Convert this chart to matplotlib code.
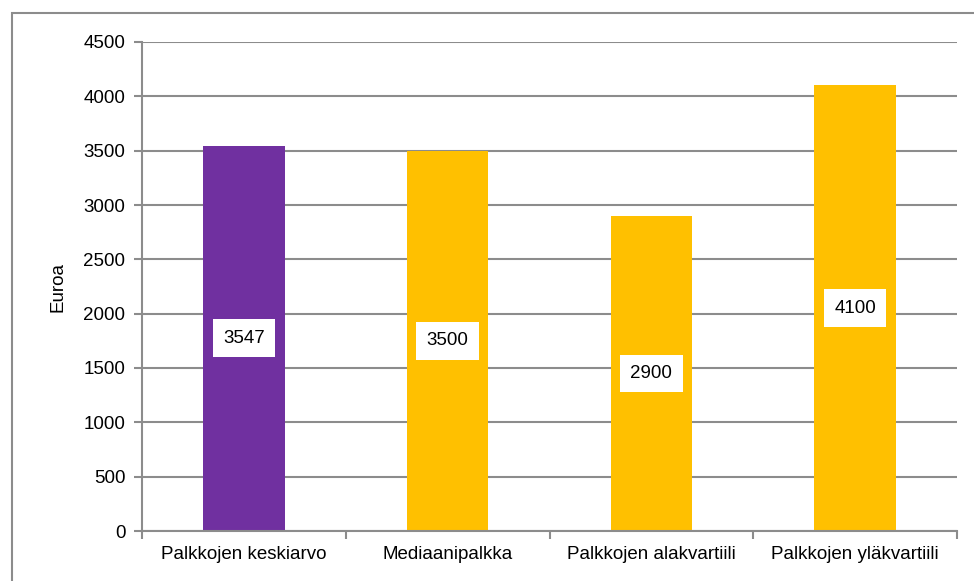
import matplotlib.pyplot as plt
from matplotlib.patches import Rectangle

plt.rcParams['font.family'] = ['Liberation Sans', 'DejaVu Sans']

categories = ['Palkkojen keskiarvo', 'Mediaanipalkka', 'Palkkojen alakvartiili', 'Palkkojen yläkvartiili']
values = [3547, 3500, 2900, 4100]
colors = ['#7030A0', '#FFC000', '#FFC000', '#FFC000']
yticks = [0, 500, 1000, 1500, 2000, 2500, 3000, 3500, 4000, 4500]

W, H = 974, 581
fs = 13.5
fig = plt.figure(figsize=(W / 100, H / 100), dpi=100)
# plot area in pixels: left 142, right 957, top 42, bottom 531
ax = fig.add_axes([142 / W, 1 - 531 / H, (957 - 142) / W, (531 - 42) / H])

grid_col = '#8c8c8c'
x = list(range(len(categories)))
ax.bar(x, values, width=0.4, color=colors, zorder=2)

for xi, v in zip(x, values):
    ax.text(xi, v / 2, str(v), ha='center', va='center', fontsize=fs, zorder=3,
            bbox=dict(boxstyle='square,pad=0.55', fc='white', ec='none'))

ax.set_xlim(-0.5, len(categories) - 0.5)
ax.set_ylim(0, 4500)
ax.set_yticks(yticks)
ax.set_yticklabels([str(t) for t in yticks], fontsize=fs)
ax.yaxis.grid(True, color=grid_col, linewidth=1.5, zorder=0)
ax.set_axisbelow(True)

ax.set_xticks(x)
ax.set_xticklabels(categories, fontsize=fs)
ax.tick_params(axis='x', length=0, pad=11)
ax.set_xticks([i - 0.5 for i in range(len(categories) + 1)], minor=True)
ax.tick_params(axis='x', which='minor', length=6, width=1.5, color=grid_col)
ax.tick_params(axis='y', length=6, width=1.5, color=grid_col, pad=6)

for s in ['top', 'right']:
    ax.spines[s].set_visible(False)
for s in ['left', 'bottom']:
    ax.spines[s].set_color(grid_col)
    ax.spines[s].set_linewidth(1.5)

ax.set_ylabel('Euroa', fontsize=fs, labelpad=12)

# outer chart border (right and bottom fall outside the image)
fig.patches.append(Rectangle((12 / W, -0.1), 1.2, 1.1 - 13 / H,
                             transform=fig.transFigure, fill=False, ec=grid_col, lw=1.5))

fig.savefig('out.png', dpi=100)
